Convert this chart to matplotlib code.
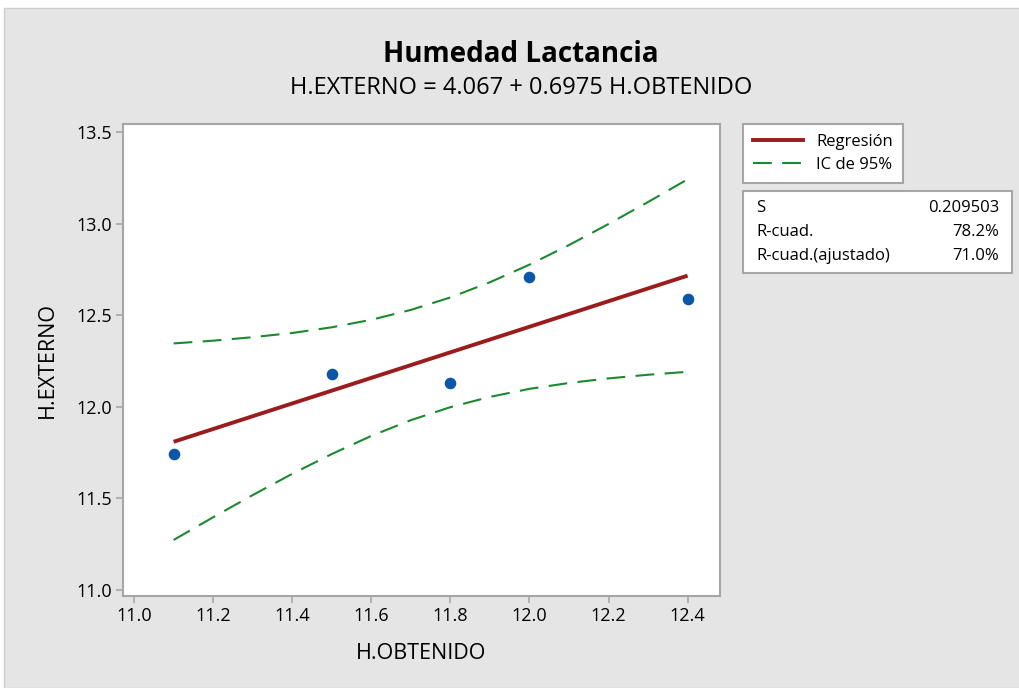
import matplotlib
matplotlib.use("Agg")
import matplotlib.pyplot as plt
from matplotlib.patches import Rectangle
from matplotlib.lines import Line2D

# ---------------------------------------------------------------------------
# Data
# ---------------------------------------------------------------------------
obt = [11.1, 11.5, 11.8, 12.0, 12.4]          # H.OBTENIDO
ext = [11.74, 12.18, 12.13, 12.71, 12.59]     # H.EXTERNO

fit_x = [11.1, 12.4]
fit_y = [11.809, 12.716]

ci_x = [11.1, 11.2, 11.3, 11.4, 11.5, 11.6, 11.7,
        11.8, 11.9, 12.0, 12.1, 12.2, 12.3, 12.4]
ci_upper = [12.346, 12.361, 12.380, 12.403, 12.434, 12.475, 12.529,
            12.597, 12.680, 12.776, 12.883, 12.998, 13.118, 13.242]
ci_lower = [11.273, 11.397, 11.518, 11.634, 11.742, 11.841, 11.927,
            11.998, 12.054, 12.098, 12.130, 12.155, 12.175, 12.191]

stat_names = ["S", "R-cuad.", "R-cuad.(ajustado)"]
stat_values = ["0.209503", "78.2%", "71.0%"]

x_ticks = [11.0, 11.2, 11.4, 11.6, 11.8, 12.0, 12.2, 12.4]
y_ticks = [11.0, 11.5, 12.0, 12.5, 13.0, 13.5]

# ---------------------------------------------------------------------------
# Styling
# ---------------------------------------------------------------------------
plt.rcParams["font.family"] = ["Open Sans", "DejaVu Sans"]
BG = "#e5e5e5"
FRAME = "#a6a6a6"
RED = "#9b1c1c"
GREEN = "#1a8a2e"
BLUE = "#0a56a8"

W, H = 1020, 688
fig = plt.figure(figsize=(W / 100, H / 100), dpi=100, facecolor="white")
fig.patches.append(Rectangle((4 / W, 0), 1, 1 - 8 / H, transform=fig.transFigure,
                             facecolor=BG, edgecolor="#cfcfcf", lw=1, zorder=-5))

ax = fig.add_axes([123 / W, 1 - 596 / H, (720 - 123) / W, (596 - 124) / H])
ax.set_facecolor("white")

ax.plot(ci_x, ci_upper, color=GREEN, lw=1.5, dashes=(9, 5), zorder=2)
ax.plot(ci_x, ci_lower, color=GREEN, lw=1.5, dashes=(9, 5), zorder=2)
ax.plot(fit_x, fit_y, color=RED, lw=2.8, zorder=3, solid_capstyle="butt")
ax.scatter(obt, ext, s=70, color=BLUE, linewidths=0, zorder=4)

ax.set_xlim(10.972, 12.482)
ax.set_ylim(10.967, 13.544)
ax.set_xticks(x_ticks)
ax.set_yticks(y_ticks)
ax.set_xticklabels([f"{v:.1f}" for v in x_ticks])
ax.set_yticklabels([f"{v:.1f}" for v in y_ticks])
for sp in ax.spines.values():
    sp.set_color(FRAME)
    sp.set_linewidth(1.5)
ax.tick_params(direction="out", length=5, width=1.2, color=FRAME,
               labelsize=13, labelcolor="black", pad=3)

ax.set_xlabel("H.OBTENIDO", fontsize=15.5, labelpad=13)
ax.set_ylabel("H.EXTERNO", fontsize=15.5, labelpad=13)

fig.text(521 / W, 1 - 55 / H, "Humedad Lactancia", ha="center", va="center",
         fontsize=20, fontweight="bold")
fig.text(521 / W, 1 - 88 / H, "H.EXTERNO = 4.067 + 0.6975 H.OBTENIDO",
         ha="center", va="center", fontsize=17)

# legend box
handles = [Line2D([], [], color=RED, lw=2.8),
           Line2D([], [], color=GREEN, lw=1.5, dashes=(9, 5))]
leg = fig.legend(handles, ["Regresión", "IC de 95%"], loc="upper left",
                 bbox_to_anchor=(743 / W, 1 - 124 / H), fontsize=12,
                 frameon=True, fancybox=False, edgecolor=FRAME, framealpha=1,
                 handlelength=3.0, handletextpad=0.8, borderpad=0.6,
                 labelspacing=0.4, borderaxespad=0)
leg.get_frame().set_linewidth(1.5)

# statistics box
fig.patches.append(Rectangle((743 / W, 1 - 273 / H), (1012 - 743) / W, (273 - 191) / H,
                             transform=fig.transFigure, facecolor="white",
                             edgecolor=FRAME, lw=1.5, zorder=1))
for i, (name, val) in enumerate(zip(stat_names, stat_values)):
    yy = 1 - (208 + 24 * i) / H
    fig.text(756 / W, yy, name, ha="left", va="center", fontsize=12)
    fig.text(999 / W, yy, val, ha="right", va="center", fontsize=12)

fig.savefig("out.png", dpi=100, facecolor=fig.get_facecolor())
